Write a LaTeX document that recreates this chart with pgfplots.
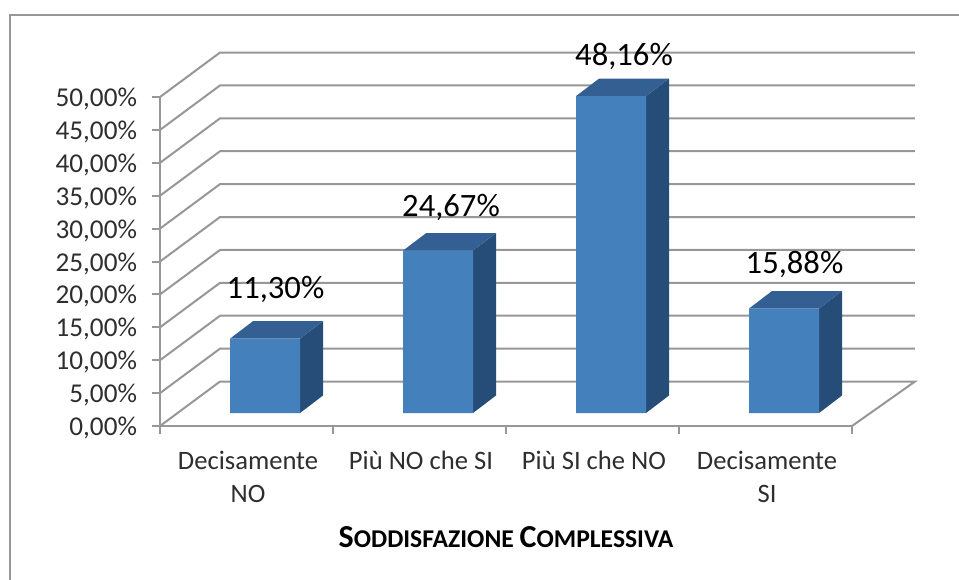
\documentclass[border=0pt]{standalone}
\usepackage{pgfplots}
\pgfplotsset{compat=1.18}
\usepackage{fontspec}
\setmainfont{Carlito}
\definecolor{gridc}{HTML}{979797}
\definecolor{front}{HTML}{4480BB}
\definecolor{topc}{HTML}{345F92}
\definecolor{sidec}{HTML}{264D78}
\definecolor{tickc}{HTML}{2E2E2E}
\pgfplotstableread{
x y
0 11.30
1 24.67
2 48.16
3 15.88
}\vals
\pgfplotsset{dl/.style 2 args={only marks,mark=none,draw=none,
  point meta=y,
  nodes near coords={\pgfmathprintnumber[fixed,fixed zerofill,precision=2,use comma,assume math mode=true]{\pgfplotspointmeta}\%},
  every node near coord/.style={anchor=base,font=\fontsize{32.6bp}{34bp}\selectfont,text=black,xshift=#1bp,yshift=#2bp}}}
\begin{document}
\begin{tikzpicture}[x=1bp,y=-1bp]
\useasboundingbox (0,0) rectangle (959,580);
\draw[gridc,line width=2.2bp] (959,15) -- (10,15) -- (10,580);
\begin{axis}[
  at={(160bp,-426bp)}, anchor=south west,
  scale only axis, width=692bp, height=329bp,
  xmin=-0.5, xmax=3.5, ymin=0, ymax=50,
  clip=false,
  axis x line*=bottom, axis y line*=left,
  axis line style={gridc,line width=2bp},
  every tick/.style={gridc,line width=2bp},
  tick align=outside, major tick length=8bp,
  xtick={-0.5,0.5,1.5,2.5,3.5},
  x tick label as interval,
  xticklabels={{Decisamente\\NO},{Più NO che SI},{Più SI che NO},{Decisamente\\SI}},
  xticklabel style={align=center,font=\fontsize{26.6bp}{33bp}\selectfont,text=tickc,xshift=1.5bp,yshift=-14bp},
  ytick={0,5,...,50},
  yticklabel={\pgfmathprintnumber[fixed,fixed zerofill,precision=2,use comma,assume math mode=true]{\tick}\%},
  yticklabel style={font=\fontsize{27.2bp}{30bp}\selectfont,text=tickc,xshift=-11.5bp,yshift=-2bp},
  xlabel={\textbf{\fontsize{32bp}{30bp}\selectfont S\fontsize{25.6bp}{30bp}\selectfont ODDISFAZIONE \fontsize{32bp}{30bp}\selectfont C\fontsize{25.6bp}{30bp}\selectfont OMPLESSIVA}},
  xlabel style={at={(axis description cs:0.5,0)},anchor=base,yshift=-121bp},
]
% walls: grid lines at each tick
\addplot[gridc,line width=2bp] coordinates {(-0.5,0)(-0.153,6.76)(3.864,6.76)(3.5,0)};
\addplot[gridc,line width=2bp] coordinates {(-0.5,5)(-0.153,11.76)(3.864,11.76)};
\addplot[gridc,line width=2bp] coordinates {(-0.5,10)(-0.153,16.76)(3.864,16.76)};
\addplot[gridc,line width=2bp] coordinates {(-0.5,15)(-0.153,21.76)(3.864,21.76)};
\addplot[gridc,line width=2bp] coordinates {(-0.5,20)(-0.153,26.76)(3.864,26.76)};
\addplot[gridc,line width=2bp] coordinates {(-0.5,25)(-0.153,31.76)(3.864,31.76)};
\addplot[gridc,line width=2bp] coordinates {(-0.5,30)(-0.153,36.76)(3.864,36.76)};
\addplot[gridc,line width=2bp] coordinates {(-0.5,35)(-0.153,41.76)(3.864,41.76)};
\addplot[gridc,line width=2bp] coordinates {(-0.5,40)(-0.153,46.76)(3.864,46.76)};
\addplot[gridc,line width=2bp] coordinates {(-0.5,45)(-0.153,51.76)(3.864,51.76)};
\addplot[gridc,line width=2bp] coordinates {(-0.5,50)(-0.153,56.76)(3.864,56.76)};
% bar sides and tops (same shift as the front faces)
\addplot[fill=sidec,draw=none,xshift=18.5bp,yshift=13bp] coordinates {(0.2023,0)(0.3353,2.66)(0.3353,13.96)(0.2023,11.30)} --cycle;
\addplot[fill=topc,draw=none,xshift=18.5bp,yshift=13bp] coordinates {(-0.2023,11.30)(0.2023,11.30)(0.3353,13.96)(-0.0693,13.96)} --cycle;
\addplot[fill=sidec,draw=none,xshift=18.5bp,yshift=13bp] coordinates {(1.2023,0)(1.3353,2.66)(1.3353,27.33)(1.2023,24.67)} --cycle;
\addplot[fill=topc,draw=none,xshift=18.5bp,yshift=13bp] coordinates {(0.7977,24.67)(1.2023,24.67)(1.3353,27.33)(0.9307,27.33)} --cycle;
\addplot[fill=sidec,draw=none,xshift=18.5bp,yshift=13bp] coordinates {(2.2023,0)(2.3353,2.66)(2.3353,50.82)(2.2023,48.16)} --cycle;
\addplot[fill=topc,draw=none,xshift=18.5bp,yshift=13bp] coordinates {(1.7977,48.16)(2.2023,48.16)(2.3353,50.82)(1.9307,50.82)} --cycle;
\addplot[fill=sidec,draw=none,xshift=18.5bp,yshift=13bp] coordinates {(3.2023,0)(3.3353,2.66)(3.3353,18.54)(3.2023,15.88)} --cycle;
\addplot[fill=topc,draw=none,xshift=18.5bp,yshift=13bp] coordinates {(2.7977,15.88)(3.2023,15.88)(3.3353,18.54)(2.9307,18.54)} --cycle;
% front faces
\addplot[ybar,bar width=70bp,bar shift=0pt,fill=front,draw=none,xshift=18.5bp,yshift=13bp] table[x=x,y=y] {\vals};
% data labels
\addplot[dl={29}{53.6}] coordinates {(0,11.30)};
\addplot[dl={31.5}{46.7}] coordinates {(1,24.67)};
\addplot[dl={31.5}{44.1}] coordinates {(2,48.16)};
\addplot[dl={29}{48.5}] coordinates {(3,15.88)};
\end{axis}
\end{tikzpicture}
\end{document}
